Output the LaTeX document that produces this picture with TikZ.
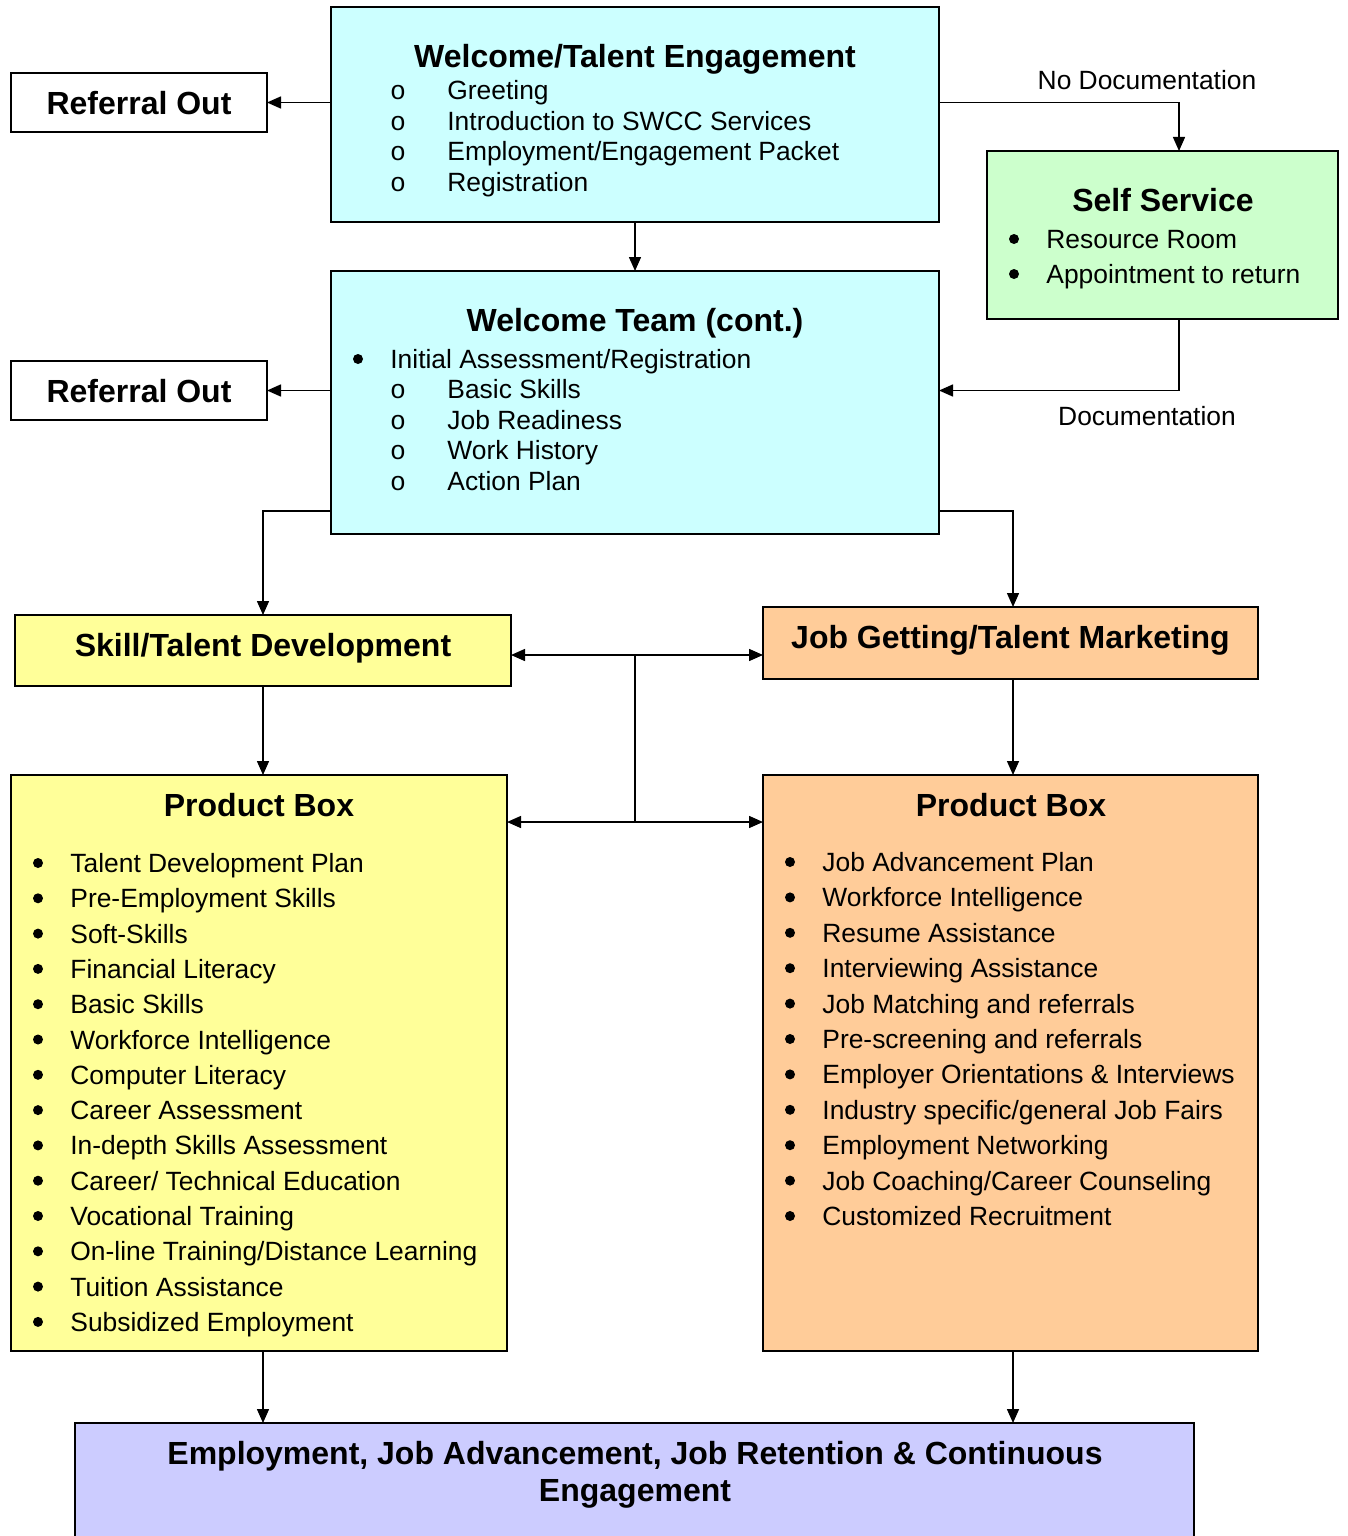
\documentclass[tikz,border=0pt]{standalone}
\usepackage{fontspec}
\setmainfont{Liberation Sans}
\newfontfamily\monofont{Liberation Mono}
\usetikzlibrary{arrows.meta,calc}
\definecolor{cyanbox}{HTML}{CCFFFF}
\definecolor{greenbox}{HTML}{CCFFCC}
\definecolor{yellowbox}{HTML}{FFFF99}
\definecolor{orangebox}{HTML}{FFCC99}
\definecolor{lavbox}{HTML}{CCCCFF}
\newcommand\bodyfont{\fontsize{13.2}{17.6}\selectfont}
\newcommand\titlefont{\fontsize{16}{18.5}\selectfont\bfseries}
\begin{document}
\begin{tikzpicture}[x=0.5pt,y=-0.5pt,
  box/.style={draw,line width=1pt,inner sep=0pt,outer sep=0pt},
  tbox/.style={box,font=\titlefont,text height=11.5pt,text depth=0pt},
  ttl/.style={anchor=base,font=\titlefont,inner sep=0pt},
  item/.style={anchor=base west,font=\bodyfont,inner sep=0pt},
  obul/.style={anchor=base,font=\bodyfont\monofont,inner sep=0pt},
  dot/.style={circle,fill,inner sep=0pt,minimum size=5pt},
  lbl/.style={anchor=base,font=\bodyfont,inner sep=0pt},
  arr/.style={-{Triangle[length=7pt,width=6pt]},line width=0.75pt},
  ln/.style={line width=0.75pt}]
\useasboundingbox (0,0) rectangle (1348,1536);

% boxes
\node[box,fill=cyanbox,minimum width=304pt,minimum height=107.5pt] (wel) at (635,114.5) {};
\node[tbox,fill=white,minimum width=128pt,minimum height=29.5pt] (ref1) at (139,102.5) {Referral Out};
\node[box,fill=greenbox,minimum width=175.5pt,minimum height=84pt] (self) at (1162.5,235) {};
\node[box,fill=cyanbox,minimum width=304pt,minimum height=131.5pt] (team) at (635,402.5) {};
\node[tbox,fill=white,minimum width=128pt,minimum height=29.5pt] (ref2) at (139,390.5) {Referral Out};
\node[tbox,text depth=6pt,fill=yellowbox,minimum width=248pt,minimum height=35.5pt] (skill) at (263,650.5) {Skill/Talent Development};
\node[tbox,text depth=6pt,fill=orangebox,minimum width=247.5pt,minimum height=36pt] (job) at (1010.5,643) {Job Getting/Talent Marketing};
\node[box,fill=yellowbox,minimum width=248pt,minimum height=288pt] (pbL) at (259,1063) {};
\node[box,fill=orangebox,minimum width=247.5pt,minimum height=288pt] (pbR) at (1010.5,1063) {};
\node[box,fill=lavbox,minimum width=559.5pt,minimum height=88.5pt] (bot) at (634.5,1511.5) {};

% titles
\node[ttl] (welT) at (635,67.5) {Welcome/Talent Engagement};
\node[ttl] (selfT) at (1163,211.5) {Self Service};
\node[ttl] (teamT) at (635,331.5) {Welcome Team (cont.)};
\node[ttl] (pbLT) at (259,816.5) {Product Box};
\node[ttl] (pbRT) at (1011,816.5) {Product Box};
\node[ttl] (botT1) at (635,1464.5) {Employment, Job Advancement, Job Retention \& Continuous};
\node[ttl] (botT2) at (635,1501.5) {Engagement};

% welcome list
\foreach \t [count=\i] in {Greeting,Introduction to SWCC Services,Employment/Engagement Packet,Registration}{
  \node[obul] (wb\i) at (398,{99.5+30.67*(\i-1)}) {o};
  \node[item] (wi\i) at (447,{99.5+30.67*(\i-1)}) {\t};
}
% self service list
\foreach \t [count=\i] in {Resource Room,Appointment to return}{
  \node[dot] (sb\i) at (1014,{239+35*(\i-1)}) {};
  \node[item] (si\i) at (1046,{248.5+35*(\i-1)}) {\t};
}
% team list
\node[dot] (tb0) at (358,359) {};
\node[item] (ti0) at (390,368.5) {Initial Assessment/Registration};
\foreach \t [count=\i] in {Basic Skills,Job Readiness,Work History,Action Plan}{
  \node[obul] (tb\i) at (398,{398.5+30.67*(\i-1)}) {o};
  \node[item] (ti\i) at (447,{398.5+30.67*(\i-1)}) {\t};
}
% product box left
\foreach \t [count=\i] in {Talent Development Plan,Pre-Employment Skills,Soft-Skills,Financial Literacy,Basic Skills,Workforce Intelligence,Computer Literacy,Career Assessment,In-depth Skills Assessment,Career/ Technical Education,Vocational Training,On-line Training/Distance Learning,Tuition Assistance,Subsidized Employment}{
  \node[dot] (lb\i) at (38,{863+35.3*(\i-1)}) {};
  \node[item] (li\i) at (70,{872.5+35.3*(\i-1)}) {\t};
}
% product box right
\foreach \t [count=\i] in {Job Advancement Plan,Workforce Intelligence,Resume Assistance,Interviewing Assistance,Job Matching and referrals,Pre-screening and referrals,Employer Orientations \& Interviews,Industry specific/general Job Fairs,Employment Networking,Job Coaching/Career Counseling,Customized Recruitment}{
  \node[dot] (rb\i) at (790,{862+35.4*(\i-1)}) {};
  \node[item] (ri\i) at (822,{871.5+35.4*(\i-1)}) {\t};
}

% labels
\node[lbl] (nodoc) at (1147,89.5) {No Documentation};
\node[lbl] (doc) at (1147,425.5) {Documentation};

% connectors
\coordinate (sd) at (1179,0);
\coordinate (m1) at (635,655);
\coordinate (m2) at (635,822);
\draw[arr] (wel.west |- ref1.east) -- (ref1.east);
\draw[arr] (team.west |- ref2.east) -- (ref2.east);
\draw[arr] (wel.east |- ref1.east) -| (self.north -| sd);
\draw[arr] (self.south -| sd) |- (team.east |- ref2.east);
\draw[arr] (wel.south) -- (team.north);
\draw[arr] ([yshift=11.5pt]team.south west) -| (skill.north);
\draw[arr] ([yshift=11.5pt]team.south east) -| ([xshift=1.25pt]job.north);
\draw[arr] (m1) -- (m1 -| skill.east);
\draw[arr] (m1) -- (m1 -| job.west);
\draw[ln] (m1) -- (m2);
\draw[arr] (m2) -- (m2 -| pbL.east);
\draw[arr] (m2) -- (m2 -| pbR.west);
\draw[arr] (skill.south) -- (skill.south |- pbL.north);
\draw[arr] ([xshift=1.25pt]job.south) -- ([xshift=1.25pt]job.south |- pbR.north);
\draw[arr] (pbL.south -| skill.south) -- (skill.south |- bot.north);
\draw[arr] ([xshift=1.25pt]pbR.south) -- ([xshift=1.25pt]pbR.south |- bot.north);
\end{tikzpicture}
\end{document}
